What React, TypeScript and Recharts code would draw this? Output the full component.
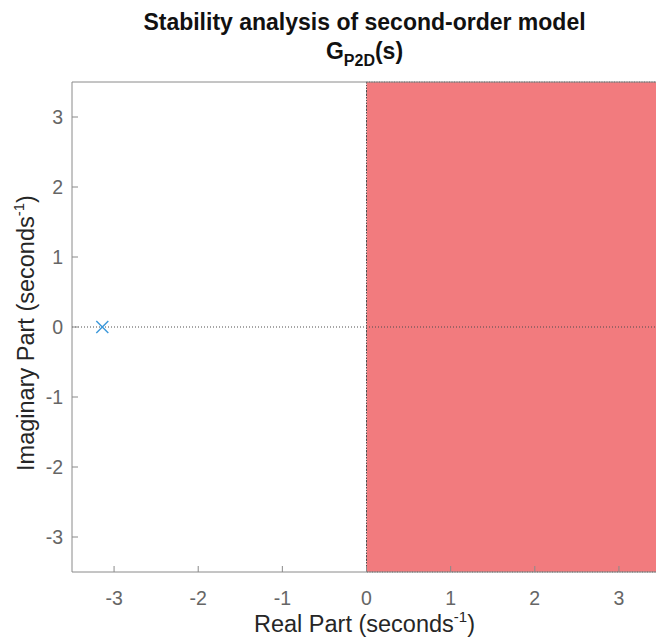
import {
  ComposedChart, XAxis, YAxis, Scatter, ReferenceArea, ReferenceLine, Label,
} from 'recharts'

// pole locations
const poleRe = [-3.14]
const poleIm = [0]
const poles = poleRe.map((re, i) => ({ re, im: poleIm[i] }))

const axisTicks = [-3, -2, -1, 0, 1, 2, 3]
const axisMin = -3.5
const axisMax = 3.5

// right half plane (unstable region)
const unstableRe = [0, 3.5]
const unstableIm = [-3.5, 3.5]

const FONT = '"Liberation Sans", Arial, Helvetica, sans-serif'
const AXIS = '#8a8a8a'
const TICK_TEXT = '#666666'
const LABEL = '#262626'
const X_GAP = 26
const Y_GAP = 9
const TICK_FS = 19.5
const LABEL_FS = 23.5

function XTick(props: any) {
  const { x, y, payload } = props
  return (
    <g>
      <line x1={x} x2={x} y1={y - X_GAP} y2={y - X_GAP - 6} stroke={AXIS} />
      <text x={x} y={y} textAnchor="middle" dominantBaseline="central"
        fontSize={TICK_FS} fill={TICK_TEXT} fontFamily={FONT}>{payload.value}</text>
    </g>
  )
}

function TopTick(props: any) {
  const { x, y } = props
  return <line x1={x} x2={x} y1={y} y2={y + 6} stroke={AXIS} />
}

function YTick(props: any) {
  const { x, y, payload } = props
  return (
    <g>
      <line x1={x + Y_GAP} x2={x + Y_GAP + 6} y1={y} y2={y} stroke={AXIS} />
      <text x={x} y={y} textAnchor="end" dominantBaseline="central"
        fontSize={TICK_FS} fill={TICK_TEXT} fontFamily={FONT}>{payload.value}</text>
    </g>
  )
}

function PoleMark(props: any) {
  const { cx, cy } = props
  const s = 6
  return (
    <g stroke="#3b98da" strokeWidth={1.4}>
      <line x1={cx - s} y1={cy - s} x2={cx + s} y2={cy + s} />
      <line x1={cx - s} y1={cy + s} x2={cx + s} y2={cy - s} />
    </g>
  )
}

export default function App() {
  return (
    <div style={{ position: 'absolute', left: 0, top: 0, width: 656, height: 643, overflow: 'hidden', background: '#fff' }}>
      <ComposedChart width={661} height={643} margin={{ top: 80, right: 0, bottom: 0, left: 0 }}>
        <ReferenceArea
          x1={unstableRe[0]} x2={unstableRe[1]} y1={unstableIm[0]} y2={unstableIm[1]}
          fill="#e81419" fillOpacity={0.56} stroke="#555" strokeDasharray="1 1.5" strokeWidth={1}
        />
        <XAxis
          dataKey="re" type="number" domain={[axisMin, axisMax]} ticks={axisTicks}
          allowDataOverflow height={71} stroke={AXIS} tickLine={false} tickSize={0}
          tickMargin={X_GAP} tick={<XTick />} interval={0}
        >
          <Label content={({ viewBox }: any) => (
            <text x={viewBox.x + viewBox.width / 2 - 2} y={632} textAnchor="middle"
              fontSize={LABEL_FS} fill={LABEL} fontFamily={FONT}>
              Real Part (seconds<tspan dy={-10} fontSize={15}>-1</tspan><tspan dy={10}>)</tspan>
            </text>
          )} />
        </XAxis>
        <XAxis
          xAxisId="top" orientation="top" type="number" domain={[axisMin, axisMax]} ticks={axisTicks}
          allowDataOverflow height={2} stroke={AXIS} tickLine={false} tickSize={0} tickMargin={0}
          tick={<TopTick />} interval={0}
        >
          <Label content={({ viewBox }: any) => {
            const cx = viewBox.x + viewBox.width / 2 - 2
            return (
              <g fontFamily={FONT} fontWeight="bold" fill="#111">
                <text x={cx} y={30} textAnchor="middle" fontSize={23}>
                  Stability analysis of second-order model
                </text>
                <text x={cx} y={59} textAnchor="middle" fontSize={23}>
                  G<tspan dy={7} fontSize={16}>P2D</tspan><tspan dy={-7}>(s)</tspan>
                </text>
              </g>
            )
          }} />
        </XAxis>
        <YAxis
          dataKey="im" type="number" domain={[axisMin, axisMax]} ticks={axisTicks}
          allowDataOverflow width={72} stroke={AXIS} tickLine={false} tickSize={0}
          tickMargin={Y_GAP} tick={<YTick />} interval={0}
        >
          <Label content={({ viewBox }: any) => {
            const cy = viewBox.y + viewBox.height / 2 + 6
            return (
              <text x={34} y={cy} textAnchor="middle"
                transform={`rotate(-90 34 ${cy})`} fontSize={LABEL_FS} fill={LABEL} fontFamily={FONT}>
                Imaginary Part (seconds<tspan dy={-10} fontSize={15}>-1</tspan><tspan dy={10}>)</tspan>
              </text>
            )
          }} />
        </YAxis>
        <ReferenceLine x={0} stroke="#4d4d4d" strokeDasharray="1 2" />
        <ReferenceLine y={0} stroke="#4d4d4d" strokeDasharray="1 2" />
        <Scatter data={poles} dataKey="im" shape={<PoleMark />} isAnimationActive={false} />
      </ComposedChart>
    </div>
  )
}
